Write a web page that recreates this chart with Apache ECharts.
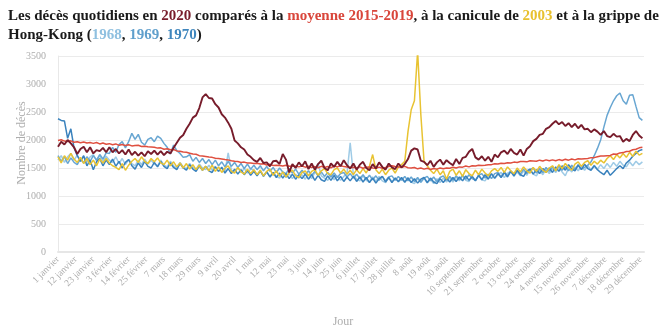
<!DOCTYPE html>
<html>
<head>
<meta charset="utf-8">
<script src="https://cdn.jsdelivr.net/npm/echarts@6/dist/echarts.min.js"></script>
<style>
  html, body { margin: 0; padding: 0; background: #ffffff; }
  #chart { width: 661px; height: 329px; }
</style>
</head>
<body>
<div id="chart"></div>
<script>
// Calendar of a leap year: one category per day, "1 janvier" ... "31 décembre"
const monthNames = ['janvier', 'février', 'mars', 'avril', 'mai', 'juin', 'juillet',
  'août', 'septembre', 'octobre', 'novembre', 'décembre'];
const monthLengths = [31, 29, 31, 30, 31, 30, 31, 31, 30, 31, 30, 31];
const days = [];
monthNames.forEach((name, m) => {
  for (let d = 1; d <= monthLengths[m]; d++) days.push(d + ' ' + name);
});

// Y axis ticks
const yTicks = [0, 500, 1000, 1500, 2000, 2500, 3000, 3500];

// Daily deaths, one reading every second day (days 0, 2, 4 ... 364), one line per month
const y2020 = [
  1880, 1970, 1920, 2000, 1940, 1870, 1750, 1840, 1880, 1780, 1870, 1760, 1820, 1800, 1860, 1780,
  1870, 1780, 1840, 1760, 1820, 1740, 1830, 1730, 1790, 1720, 1780, 1710, 1800, 1750,
  1810, 1740, 1800, 1730, 1790, 1760, 1860, 1950, 2040, 2090, 2200, 2290, 2400, 2440, 2570, 2760,
  2820, 2750, 2740, 2640, 2580, 2460, 2400, 2310, 2200, 1990, 1940, 1870, 1830, 1740, 1700,
  1640, 1610, 1680, 1590, 1600, 1530, 1620, 1630, 1570, 1750, 1650, 1420, 1570, 1500, 1600,
  1530, 1620, 1480, 1580, 1470, 1570, 1630, 1500, 1460, 1580, 1520, 1610, 1530, 1640, 1550,
  1490, 1580, 1470, 1560, 1610, 1500, 1460, 1570, 1490, 1600, 1520, 1470, 1580, 1510, 1480, 1580,
  1510, 1570, 1660, 1810, 1850, 1830, 1630, 1610, 1550, 1630, 1520, 1600, 1650, 1560, 1640,
  1590, 1550, 1660, 1570, 1680, 1700, 1790, 1840, 1690, 1650, 1710, 1630, 1700, 1610, 1740,
  1690, 1780, 1810, 1750, 1840, 1770, 1740, 1830, 1720, 1840, 1890, 1980, 2020, 2090, 2110, 2200,
  2230, 2290, 2340, 2280, 2320, 2250, 2300, 2230, 2290, 2210, 2270, 2190, 2200, 2140, 2190,
  2150, 2090, 2160, 2070, 2050, 2110, 2060, 2070, 1970, 2020, 1980, 2090, 2160, 2080, 2030
];
const avg2015to2019 = [
  1990, 2005, 1980, 1975, 1985, 1960, 1970, 1950, 1965, 1945, 1955, 1940, 1955, 1930, 1945, 1925,
  1935, 1915, 1930, 1905, 1920, 1900, 1915, 1895, 1900, 1905, 1885, 1890, 1880, 1875,
  1870, 1855, 1860, 1835, 1845, 1825, 1830, 1805, 1800, 1785, 1780, 1765, 1750, 1745, 1720, 1715,
  1705, 1695, 1690, 1675, 1670, 1660, 1650, 1645, 1630, 1620, 1615, 1600, 1605, 1590, 1590,
  1580, 1585, 1570, 1575, 1555, 1565, 1545, 1550, 1545, 1535, 1550, 1530, 1535, 1530, 1520,
  1535, 1515, 1530, 1510, 1525, 1505, 1530, 1510, 1525, 1505, 1535, 1520, 1545, 1525, 1520,
  1510, 1515, 1500, 1520, 1495, 1515, 1520, 1500, 1495, 1515, 1495, 1510, 1525, 1540, 1525, 1520,
  1510, 1530, 1505, 1500, 1510, 1485, 1500, 1480, 1495, 1475, 1490, 1480, 1500, 1485, 1500,
  1495, 1515, 1500, 1520, 1515, 1535, 1520, 1540, 1535, 1550, 1545, 1550, 1560, 1560, 1575,
  1570, 1585, 1580, 1595, 1590, 1605, 1600, 1615, 1615, 1610, 1630, 1625, 1620, 1640, 1625, 1645,
  1630, 1645, 1630, 1650, 1635, 1655, 1640, 1660, 1645, 1665, 1660, 1665, 1670, 1685, 1685,
  1700, 1715, 1715, 1720, 1725, 1750, 1745, 1770, 1775, 1795, 1800, 1825, 1835, 1860, 1870
];
const y2003 = [
  1700, 1590, 1720, 1640, 1760, 1660, 1600, 1690, 1580, 1670, 1560, 1640, 1540, 1660, 1590, 1670,
  1590, 1540, 1510, 1470, 1580, 1460, 1550, 1620, 1670, 1600, 1700, 1620, 1580, 1670,
  1610, 1680, 1590, 1560, 1640, 1540, 1610, 1520, 1590, 1500, 1580, 1480, 1560, 1470, 1550, 1460,
  1530, 1450, 1550, 1440, 1520, 1420, 1500, 1540, 1440, 1410, 1510, 1430, 1390, 1480, 1400,
  1470, 1380, 1460, 1360, 1440, 1480, 1370, 1450, 1350, 1430, 1340, 1420, 1460, 1360, 1330,
  1420, 1450, 1360, 1440, 1470, 1370, 1450, 1490, 1400, 1380, 1470, 1500, 1410, 1480, 1390,
  1460, 1380, 1470, 1400, 1490, 1410, 1530, 1740, 1470, 1400, 1480, 1380, 1460, 1500, 1410, 1520,
  1560, 1620, 2150, 2540, 2700, 3580, 2450, 1620, 1540, 1460, 1400, 1480, 1380, 1450, 1300,
  1440, 1480, 1370, 1450, 1350, 1470, 1400, 1360, 1460, 1380, 1480, 1410, 1360, 1450, 1490,
  1440, 1510, 1420, 1520, 1450, 1400, 1500, 1430, 1520, 1450, 1410, 1510, 1440, 1530, 1460, 1420,
  1500, 1540, 1450, 1560, 1490, 1580, 1510, 1460, 1570, 1610, 1530, 1600, 1630, 1550, 1620,
  1570, 1640, 1590, 1670, 1720, 1650, 1740, 1680, 1760, 1690, 1780, 1710, 1800, 1730, 1760
];
const y1968 = [
  1640, 1720, 1600, 1700, 1760, 1640, 1730, 1620, 1710, 1600, 1700, 1740, 1630, 1720, 1620, 1710,
  1640, 1600, 1700, 1580, 1670, 1560, 1650, 1580, 1540, 1640, 1560, 1660, 1570, 1640,
  1570, 1540, 1640, 1550, 1520, 1620, 1540, 1500, 1600, 1520, 1490, 1580, 1510, 1480, 1570, 1500,
  1470, 1550, 1460, 1530, 1440, 1520, 1440, 1770, 1460, 1430, 1510, 1420, 1490, 1410, 1480,
  1460, 1380, 1450, 1360, 1440, 1340, 1420, 1350, 1320, 1410, 1330, 1400, 1310, 1390, 1320,
  1380, 1300, 1390, 1310, 1420, 1580, 1360, 1320, 1280, 1370, 1290, 1360, 1280, 1350, 1400,
  1950, 1370, 1300, 1270, 1360, 1280, 1250, 1340, 1260, 1350, 1270, 1240, 1330, 1260, 1320, 1250,
  1310, 1240, 1330, 1250, 1220, 1310, 1240, 1320, 1230, 1300, 1220, 1310, 1240, 1320, 1250,
  1320, 1250, 1340, 1270, 1360, 1280, 1260, 1350, 1280, 1370, 1290, 1270, 1360, 1390, 1310,
  1380, 1420, 1330, 1410, 1440, 1350, 1430, 1360, 1450, 1370, 1470, 1390, 1360, 1460, 1380, 1480,
  1400, 1490, 1420, 1510, 1430, 1360, 1500, 1430, 1520, 1450, 1530, 1460, 1540, 1470, 1550,
  1480, 1560, 1490, 1580, 1510, 1600, 1530, 1620, 1550, 1520, 1610, 1540, 1620, 1560, 1610
];
const y1969 = [
  1720, 1620, 1700, 1580, 1680, 1600, 1560, 1670, 1590, 1700, 1620, 1720, 1640, 1740, 1660, 1770,
  1760, 1870, 1780, 1920, 1970, 1860, 1970, 2120, 2010, 2100, 1960, 1910, 2010, 2040,
  1970, 2070, 2030, 1940, 1870, 1750, 1910, 1810, 1760, 1690, 1700, 1740, 1620, 1690, 1600, 1670,
  1580, 1650, 1560, 1640, 1540, 1610, 1520, 1620, 1530, 1600, 1510, 1580, 1490, 1570, 1480,
  1550, 1470, 1540, 1450, 1530, 1440, 1510, 1420, 1500, 1430, 1400, 1490, 1410, 1480, 1390,
  1460, 1380, 1450, 1370, 1440, 1360, 1430, 1350, 1420, 1340, 1410, 1330, 1400, 1420, 1340,
  1400, 1320, 1390, 1310, 1380, 1300, 1370, 1290, 1360, 1280, 1350, 1270, 1340, 1360, 1280, 1350,
  1280, 1350, 1270, 1340, 1260, 1330, 1250, 1320, 1350, 1270, 1340, 1260, 1330, 1360, 1280,
  1350, 1280, 1360, 1290, 1370, 1300, 1380, 1310, 1280, 1370, 1400, 1320, 1390, 1310, 1400,
  1420, 1340, 1430, 1360, 1450, 1370, 1460, 1390, 1480, 1400, 1470, 1500, 1410, 1490, 1420, 1510,
  1440, 1520, 1450, 1540, 1460, 1530, 1450, 1550, 1470, 1560, 1480, 1510, 1550, 1610, 1720,
  1850, 2000, 2230, 2440, 2580, 2700, 2790, 2840, 2700, 2640, 2800, 2810, 2600, 2400, 2350
];
const y1970 = [
  2380, 2350, 2340, 2030, 2200, 1860, 1720, 1620, 1720, 1540, 1640, 1470, 1610, 1670, 1540, 1640,
  1560, 1660, 1530, 1620, 1500, 1600, 1650, 1540, 1480, 1590, 1510, 1620, 1530, 1500,
  1600, 1520, 1620, 1530, 1490, 1590, 1510, 1470, 1580, 1500, 1460, 1560, 1480, 1440, 1540, 1460,
  1530, 1450, 1420, 1520, 1440, 1510, 1410, 1490, 1400, 1480, 1390, 1470, 1380, 1460, 1370,
  1440, 1360, 1450, 1350, 1430, 1340, 1420, 1330, 1410, 1320, 1400, 1310, 1390, 1300, 1380,
  1310, 1390, 1300, 1380, 1280, 1370, 1290, 1260, 1360, 1280, 1370, 1270, 1350, 1260, 1340,
  1270, 1350, 1260, 1340, 1250, 1330, 1240, 1320, 1230, 1310, 1350, 1250, 1330, 1240, 1320, 1260,
  1330, 1250, 1320, 1240, 1310, 1230, 1300, 1330, 1240, 1320, 1250, 1220, 1310, 1240, 1320,
  1250, 1330, 1260, 1340, 1270, 1360, 1280, 1350, 1270, 1370, 1290, 1380, 1300, 1400, 1320,
  1400, 1330, 1420, 1340, 1440, 1360, 1460, 1380, 1350, 1450, 1480, 1390, 1470, 1400, 1490, 1420,
  1500, 1420, 1520, 1440, 1540, 1460, 1560, 1480, 1450, 1550, 1470, 1570, 1490, 1460, 1540,
  1470, 1420, 1380, 1460, 1370, 1430, 1490, 1540, 1490, 1590, 1640, 1710, 1760, 1810, 1830
];

const seriesNames = ['1968', '1969', '1970', '2003', 'Moyenne 2015-2019', '2020'];
const seriesValues = [y1968, y1969, y1970, y2003, avg2015to2019, y2020];
const seriesColors = ['#9fcbe6', '#68a6d2', '#3a82bd', '#e8c332', '#df4f3f', '#771c2b'];
const seriesWidths = [1.5, 1.5, 1.5, 1.5, 1.5, 1.9];

// Place every reading on its day; the days in between stay empty and are bridged
function onCalendar(values) {
  const out = new Array(days.length).fill(null);
  values.forEach((v, i) => { out[i * 2] = v; });
  return out;
}

const serif = '"Liberation Serif", "DejaVu Serif", serif';
const axisGrey = '#adadad';
const titleSize = 15;
const titleStyle = (color) => ({
  fontFamily: serif, fontWeight: 'bold', fontSize: titleSize, color: color, lineHeight: 19
});

const chart = echarts.init(document.getElementById('chart'), null, { renderer: 'canvas' });
chart.setOption({
  animation: false,
  backgroundColor: '#ffffff',
  title: {
    left: 3,
    top: 2,
    text: '{t|Les décès quotidiens en }{a|2020}{t| comparés à la }{b|moyenne 2015-2019}{t|, à la canicule de }{c|2003}{t| et à la grippe de}\n' +
          '{t|Hong-Kong (}{d|1968}{t|, }{e|1969}{t|, }{f|1970}{t|)}',
    textStyle: {
      rich: {
        t: titleStyle('#1a1a1a'),
        a: titleStyle('#771c2b'),
        b: titleStyle('#d9463b'),
        c: titleStyle('#e8c12f'),
        d: titleStyle('#8fc0e0'),
        e: titleStyle('#5f9fcc'),
        f: titleStyle('#3f86bd')
      }
    }
  },
  grid: { left: 58, right: 17, top: 56, bottom: 77, containLabel: false, outerBoundsMode: 'none' },
  xAxis: {
    type: 'category',
    data: days,
    boundaryGap: false,
    name: 'Jour',
    nameLocation: 'middle',
    nameGap: 64,
    nameMoveOverlap: false,
    nameTextStyle: { fontFamily: serif, fontSize: 12, color: axisGrey, padding: [0, 16, 0, 0] },
    axisLine: { show: true, lineStyle: { color: '#e6e6e6', width: 2 } },
    axisTick: { show: false },
    splitLine: { show: false },
    axisLabel: {
      interval: 10,
      rotate: 45,
      fontFamily: serif,
      fontSize: 9.5,
      color: axisGrey,
      margin: 6
    }
  },
  yAxis: {
    type: 'value',
    min: yTicks[0],
    max: yTicks[yTicks.length - 1],
    interval: 500,
    name: 'Nombre de décès',
    nameLocation: 'middle',
    nameGap: 30,
    nameMoveOverlap: false,
    nameTextStyle: { fontFamily: serif, fontSize: 12, color: axisGrey, padding: [0, 0, 0, 22] },
    axisLine: { show: true, lineStyle: { color: '#e8e8e8', width: 1 } },
    axisTick: { show: false },
    splitLine: { lineStyle: { color: '#ebebeb', width: 1 } },
    axisLabel: {
      fontFamily: serif, fontSize: 10, color: axisGrey, margin: 12,
      formatter: (v) => String(v)
    }
  },
  series: seriesNames.map((name, k) => ({
    name: name,
    type: 'line',
    data: onCalendar(seriesValues[k]),
    connectNulls: true,
    showSymbol: false,
    symbol: 'none',
    smooth: false,
    lineStyle: { color: seriesColors[k], width: seriesWidths[k] },
    itemStyle: { color: seriesColors[k] },
    z: 2 + k
  }))
});
</script>
</body>
</html>
